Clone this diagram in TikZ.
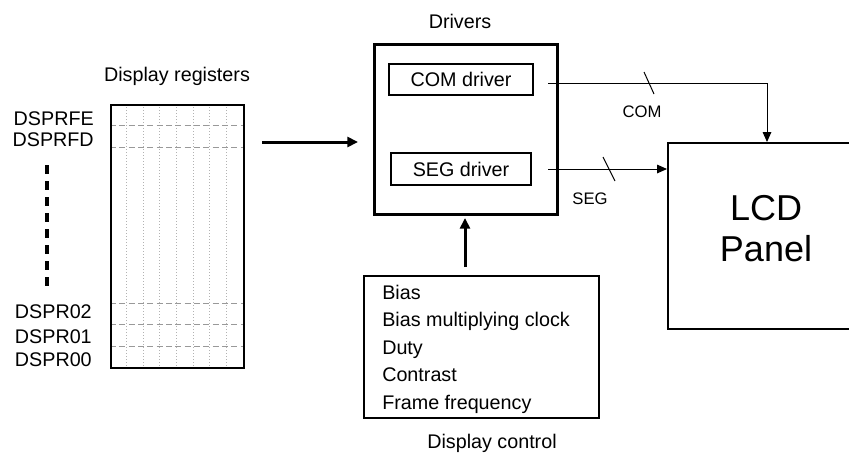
\documentclass[tikz,border=0pt]{standalone}
\usepackage{fontspec}
\setmainfont{Liberation Sans}
\usetikzlibrary{arrows.meta,calc,backgrounds}
\newcommand{\bodyfont}{\fontsize{14.8}{17}\selectfont}
\newcommand{\sigfont}{\fontsize{12.5}{15}\selectfont}
\newcommand{\panelfont}{\fontsize{27}{30.75}\selectfont}
\tikzset{
  blockbox/.style={draw, line width=1.5pt, inner sep=0pt, anchor=north west, font=\bodyfont},
  bigarrow/.style={line width=2.25pt, -{Triangle[length=8pt,width=7.5pt]}},
  sigarrow/.style={line width=0.75pt, -{Triangle[length=7.5pt,width=6.5pt]}},
  rowline/.style={gray!80, line width=0.75pt, dash pattern=on 4.5pt off 2.5pt},
  colline/.style={gray!60, line width=0.75pt, dash pattern=on 0.75pt off 1.5pt},
  lbl/.style={font=\bodyfont, inner sep=0pt},
  siglbl/.style={font=\sigfont, inner sep=0pt},
}
\begin{document}
\begin{tikzpicture}[x=0.75pt, y=-0.75pt]
    \useasboundingbox (0,0) rectangle (849,454);

    % display registers
    \node[blockbox, minimum width=99.75pt, minimum height=197.25pt] (regs) at (110,104) {};
    \node[lbl, anchor=base] (regtitle) at (177,81) {Display registers};
    \begin{scope}[on background layer]
        \foreach \k in {1,...,7}
            \draw[colline] ($(regs.north west)+(16.625*\k,0)$) -- ($(regs.south west)+(16.625*\k,0)$);
        \foreach \y in {125,147,303,324,346}
            \draw[rowline] (regs.west |- 0,\y) -- (regs.east |- 0,\y);
    \end{scope}

    % register names
    \node[lbl, anchor=base east] (rfe) at (94,125) {DSPRFE};
    \node[lbl, anchor=base east] (rfd) at (94,146) {DSPRFD};
    \node[lbl, anchor=base east] (r02) at (92,318) {DSPR02};
    \node[lbl, anchor=base east] (r01) at (92,343) {DSPR01};
    \node[lbl, anchor=base east] (r00) at (92,366) {DSPR00};
    \coordinate (gaptop) at (47,165);
    \coordinate (gapbot) at (47,287);
    \draw[line width=2.4pt, dash pattern=on 6.75pt off 5.25pt] (gaptop) -- (gapbot);

    % drivers
    \node[blockbox, line width=1.9pt, minimum width=137.25pt, minimum height=127.5pt] (drv) at (373,43) {};
    \node[lbl, anchor=base] (drvtitle) at (460,28) {Drivers};
    \node[blockbox, minimum width=108pt, minimum height=23.25pt] (com) at (388,63) {COM driver};
    \node[blockbox, minimum width=105pt, minimum height=24pt] (seg) at (390,152) {SEG driver};

    % display control
    \node[blockbox, minimum width=176.25pt, minimum height=106.5pt] (ctl) at (363,275) {};
    \foreach \txt [count=\i] in {Bias, Bias multiplying clock, Duty, Contrast, Frame frequency}
        \node[lbl, anchor=base west] (ctl\i) at (382,271.5+27.5*\i) {\txt};
    \node[lbl, anchor=base] (ctltitle) at (492,448) {Display control};

    % LCD panel
    \node[blockbox, minimum width=148.5pt, minimum height=139.5pt] (lcd) at (667,142) {};
    \node[font=\panelfont, align=center, inner sep=0pt] (lcdtxt) at (766,229) {LCD\\Panel};

    % arrows
    \coordinate (regout) at (262,142);
    \coordinate (drvin) at (358,142);
    \draw[bigarrow] (regout) -- (drvin);
    \coordinate (ctlout) at (465,267);
    \coordinate (drvbot) at (465,218);
    \draw[bigarrow] (ctlout) -- (drvbot);

    \coordinate (comout) at (548,83);
    \coordinate (segout) at (548,169);
    \draw[sigarrow] (comout) -| (lcd.north);
    \draw[sigarrow] (segout) -- (segout -| lcd.west);

    % bus slashes
    \draw[line width=0.75pt] (644,72) -- (654,94);
    \draw[line width=0.75pt] (603,157) -- (615,181);
    \node[siglbl] (comlbl) at (642,111.5) {COM};
    \node[siglbl] (seglbl) at (590,198.5) {SEG};
\end{tikzpicture}
\end{document}
